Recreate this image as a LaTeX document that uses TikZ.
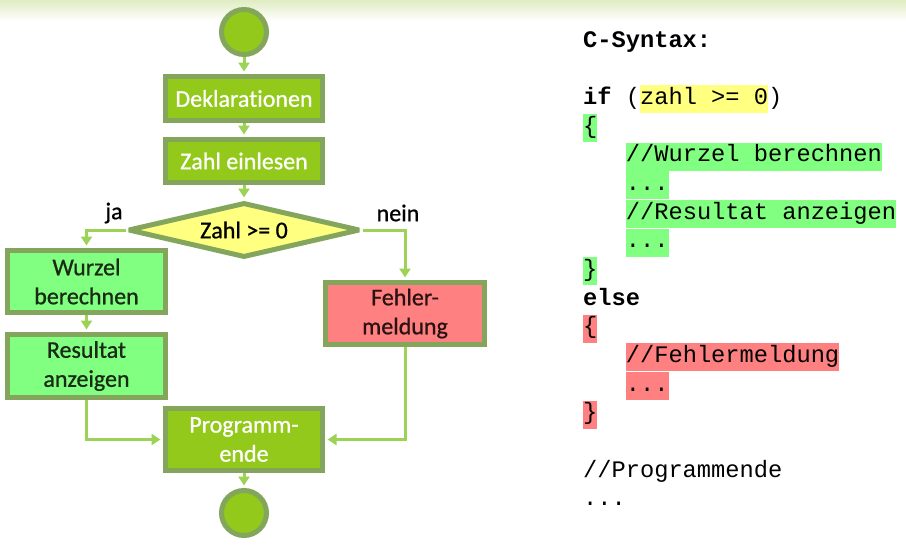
\documentclass[tikz,border=0pt]{standalone}
\usepackage{fontspec}
\setmainfont{Carlito}[Ligatures={NoCommon}, RawFeature={embolden=0.8}]
\newfontfamily\codefont{Liberation Mono}
\usetikzlibrary{shapes.geometric,arrows.meta,backgrounds}
\definecolor{boxgreen}{HTML}{92C91A}
\definecolor{bordergreen}{HTML}{84A55C}
\definecolor{lightgreen}{HTML}{80FF80}
\definecolor{lightred}{HTML}{FF8080}
\definecolor{lightyellow}{HTML}{FFFF80}
\definecolor{linegreen}{HTML}{9CD356}
\definecolor{topgreen}{HTML}{E0ECC2}
\definecolor{darktext}{HTML}{1A2A14}
\definecolor{redtext}{HTML}{2A1212}
\begin{document}
\begin{tikzpicture}[x=1pt,y=-1pt,
  every node/.style={font=\fontsize{24pt}{29pt}\selectfont},
  box/.style={rectangle, draw=bordergreen, line width=5pt, inner sep=2pt, align=center},
  darkbox/.style={box, fill=boxgreen, text=white},
  greenbox/.style={box, fill=lightgreen, text=darktext},
  redbox/.style={box, fill=lightred, text=redtext},
  terminal/.style={circle, draw=bordergreen, line width=5pt, fill=boxgreen, inner sep=0pt, minimum size=45pt},
  decision/.style={diamond, aspect=4, draw=bordergreen, line width=5pt, fill=lightyellow, inner sep=1pt, line join=bevel},
  flow/.style={draw=linegreen, line width=3pt, -{Triangle[length=9pt,width=11pt]}, shorten >=2.5pt},
  code/.style={font=\codefont\fontsize{23.7pt}{28.7pt}\selectfont, anchor=base west, inner sep=0pt, text height=19pt, text depth=9pt},
  codeg/.style={code, fill=lightgreen},
  coder/.style={code, fill=lightred},
  codey/.style={code, fill=lightyellow}
]
\useasboundingbox (0,0) rectangle (906,546);
% nodes of the flowchart
\node[terminal] (start) at (244,32) {};
\node[darkbox, minimum width=157pt, minimum height=44pt] (dekl) at (244,98.5) {Deklarationen};
\node[darkbox, minimum width=157pt, minimum height=43pt] (zahl) at (244,161) {Zahl einlesen};
\node[decision, minimum width=232pt, minimum height=55pt] (dia) at (244,230) {Zahl >= 0};
\node[greenbox, minimum width=158pt, minimum height=62pt] (wurzel) at (86.5,281.5) {Wurzel\\berechnen};
\node[greenbox, minimum width=158pt, minimum height=63pt] (result) at (86.5,366) {Resultat\\anzeigen};
\node[redbox, minimum width=159pt, minimum height=62pt] (fehler) at (405,313.5) {Fehler-\\meldung};
\node[darkbox, minimum width=157pt, minimum height=62pt] (ende) at (244,439.5) {Programm-\\ende};
\node[terminal] (stop) at (244,513) {};
\node (ja) at (114,213) {ja};
\node (nein) at (398,213) {nein};
% background: gradient band and connectors
\begin{scope}[on background layer]
  \shade[top color=topgreen, bottom color=white] (0,0) rectangle (906,21);
  \draw[flow] (start) -- (dekl);
  \draw[flow] (dekl) -- (zahl);
  \draw[flow] (zahl) -- (dia);
  \draw[flow] (dia.west) -| (wurzel.north);
  \draw[flow] (dia.east) -| (fehler.north);
  \draw[flow] (wurzel) -- (result);
  \draw[flow] (result.south) |- (ende.west);
  \draw[flow] (fehler.south) |- (ende.east);
  \draw[flow] (ende) -- (stop);
\end{scope}
% C syntax
\node[code] (c0) at (583,47) {\bfseries C-Syntax:};
\node[code] (c2a) at (583,104.3) {\textbf{if} (};
\node[codey] (c2b) at (639.9,104.3) {zahl >= 0};
\node[code] (c2c) at (767.9,104.3) {)};
\node[codeg] (c3) at (583,133) {\{};
\node[codeg] (c4) at (625.7,161.7) {//Wurzel berechnen};
\node[codeg] (c5) at (625.7,190.4) {...};
\node[codeg] (c6) at (625.7,219) {//Resultat anzeigen};
\node[codeg] (c7) at (625.7,247.7) {...};
\node[codeg] (c8) at (583,276.4) {\}};
\node[code] (c9) at (583,305) {\bfseries else};
\node[coder] (c10) at (583,333.7) {\{};
\node[coder] (c11) at (625.7,362.4) {//Fehlermeldung};
\node[coder] (c12) at (625.7,391) {...};
\node[coder] (c13) at (583,419.7) {\}};
\node[code] (c15) at (583,477.1) {//Programmende};
\node[code] (c16) at (583,505.7) {...};
\end{tikzpicture}
\end{document}
